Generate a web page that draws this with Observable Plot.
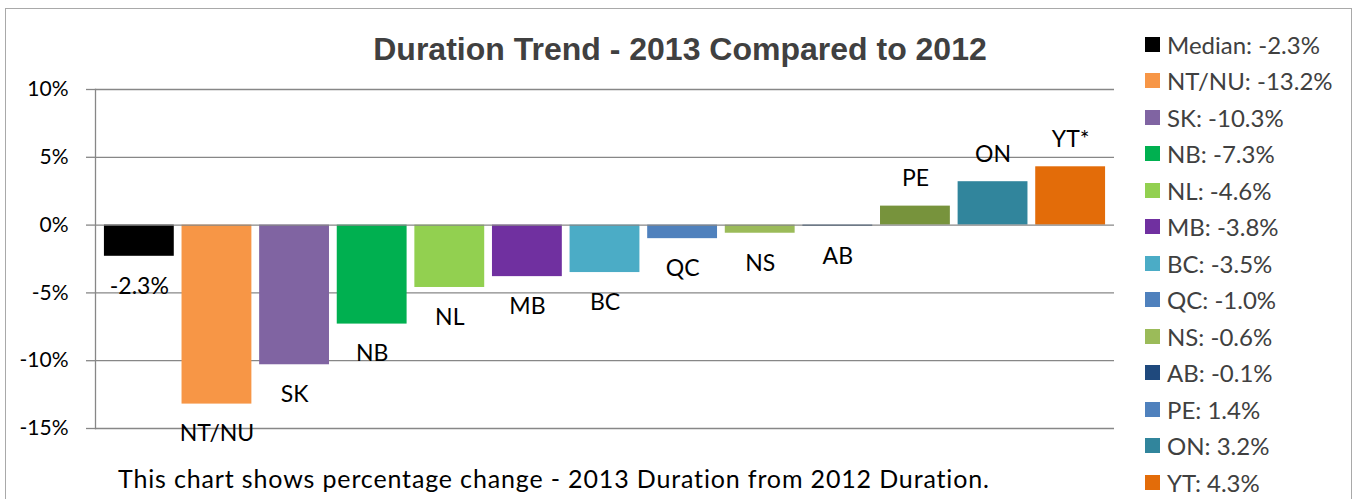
<!DOCTYPE html>
<html>
<head>
<meta charset="utf-8">
<script src="https://cdn.jsdelivr.net/npm/d3@7"></script>
<script src="https://cdn.jsdelivr.net/npm/@observablehq/plot@0.6"></script>
<style>
  body { margin: 0; background: #fff; }
  #wrap { position: relative; width: 1354px; height: 499px; overflow: hidden; font-family: Lato, "Open Sans", sans-serif; }
  #border { position: absolute; left: 5px; top: 8px; width: 1347px; height: 540px; border: 1.5px solid #a9a9a9; box-sizing: border-box; }
  #chart { position: absolute; left: 0; top: 0; }
  #title { position: absolute; left: 0; top: 30.5px; width: 1360px; text-align: center; font: bold 32px "Liberation Sans", Arial, sans-serif; color: #404040; line-height: 36px; }
  #legend { position: absolute; left: 1145px; top: 25.75px; }
  .row { height: 36.5px; display: flex; align-items: center; }
  .sw { width: 15px; height: 15px; margin-right: 7px; flex: none; }
  .lt { font-size: 24px; color: #404040; white-space: nowrap; }
  #caption { position: absolute; left: 118px; top: 463px; font-size: 25px; letter-spacing: 0.85px; color: #000; line-height: 30px; white-space: nowrap; }
</style>
</head>
<body>
<div id="wrap">
  <div id="border"></div>
  <div id="chart"></div>
  <div id="title"></div>
  <div id="legend"></div>
  <div id="caption"></div>
</div>
<script>
const title = "Duration Trend - 2013 Compared to 2012";
const caption = "This chart shows percentage change - 2013 Duration from 2012 Duration.";
const categories = ["Median", "NT/NU", "SK", "NB", "NL", "MB", "BC", "QC", "NS", "AB", "PE", "ON", "YT"];
const values = [-2.3, -13.2, -10.3, -7.3, -4.6, -3.8, -3.5, -1.0, -0.6, -0.1, 1.4, 3.2, 4.3];
const barLabels = ["-2.3%", "NT/NU", "SK", "NB", "NL", "MB", "BC", "QC", "NS", "AB", "PE", "ON", "YT*"];
const barColors = ["#000000", "#F79646", "#8064A2", "#00B050", "#92D050", "#7030A0", "#4BACC6", "#4F81BD", "#9BBB59", "#1F497D", "#77933C", "#31859C", "#E36C09"];
const legendColors = ["#000000", "#F79646", "#8064A2", "#00B050", "#92D050", "#7030A0", "#4BACC6", "#4F81BD", "#9BBB59", "#1F497D", "#4F81BD", "#31859C", "#E36C09"];
const legendLabels = ["Median: -2.3%", "NT/NU: -13.2%", "SK: -10.3%", "NB: -7.3%", "NL: -4.6%", "MB: -3.8%", "BC: -3.5%", "QC: -1.0%", "NS: -0.6%", "AB: -0.1%", "PE: 1.4%", "ON: 3.2%", "YT: 4.3%"];
const yTicks = [10, 5, 0, -5, -10, -15];

const data = categories.map((c, i) => ({cat: c, value: values[i], label: barLabels[i], color: barColors[i]}));
const gridColor = "#878787";

const plot = Plot.plot({
  width: 1120,
  height: 470,
  marginLeft: 95,
  marginRight: 6,
  marginTop: 89,
  marginBottom: 42,
  style: {fontFamily: "Lato, 'Open Sans', sans-serif", background: "transparent", overflow: "visible"},
  x: {domain: categories, paddingInner: 0.1, paddingOuter: 0.115, round: false, axis: null},
  y: {domain: [-15, 10], ticks: yTicks},
  color: {type: "identity"},
  marks: [
    Plot.ruleY(yTicks.filter(t => t !== 0), {stroke: gridColor, strokeWidth: 1.3}),
    Plot.axisY({ticks: yTicks, tickFormat: d => d + "%", tickSize: 9, tickPadding: 18, stroke: gridColor, strokeWidth: 1.3, fill: "black", fontSize: 21, label: null}),
    Plot.frame({anchor: "left", stroke: gridColor, strokeWidth: 1.3}),
    Plot.barY(data, {x: "cat", y: "value", fill: "color"}),
    Plot.ruleY([0], {stroke: gridColor, strokeWidth: 1.3}),
    Plot.text(data.filter(d => d.value < 0), {x: "cat", y: "value", text: "label", dy: 30, fontSize: 23, fill: "black"}),
    Plot.text(data.filter(d => d.value >= 0), {x: "cat", y: "value", text: "label", dy: -27, fontSize: 23, fill: "black"})
  ]
});
document.getElementById("chart").appendChild(plot);
document.getElementById("title").textContent = title;
document.getElementById("caption").textContent = caption;

const legend = document.getElementById("legend");
legendLabels.forEach((t, i) => {
  const row = document.createElement("div");
  row.className = "row";
  const sw = document.createElement("div");
  sw.className = "sw";
  sw.style.background = legendColors[i];
  const lt = document.createElement("span");
  lt.className = "lt";
  lt.textContent = t;
  row.appendChild(sw);
  row.appendChild(lt);
  legend.appendChild(row);
});
</script>
</body>
</html>
